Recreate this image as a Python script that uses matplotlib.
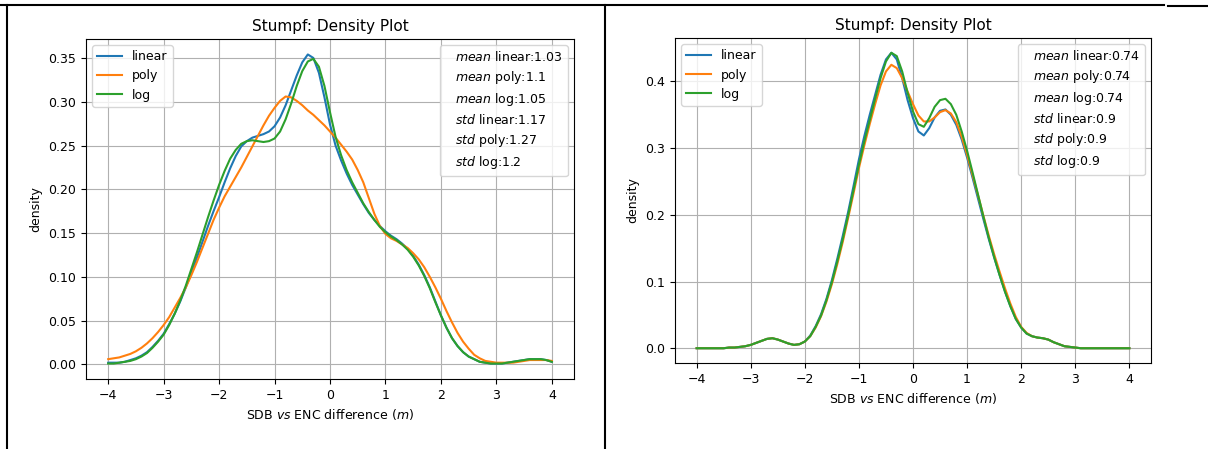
import numpy as np
import matplotlib
matplotlib.use("Agg")
import matplotlib.pyplot as plt
from matplotlib.lines import Line2D

# evaluation grid of the density curves (m), step 0.1
diff_grid = np.arange(-40, 41) / 10

# left panel
left_linear = [0.002, 0.002, 0.002, 0.003, 0.005, 0.007, 0.010, 0.014, 0.020, 0.027,
               0.035, 0.046, 0.058, 0.072, 0.088, 0.105, 0.122, 0.140, 0.158, 0.175,
               0.191, 0.208, 0.224, 0.238, 0.249, 0.255, 0.259, 0.261, 0.263, 0.266,
               0.272, 0.282, 0.296, 0.313, 0.330, 0.345, 0.354, 0.350, 0.333, 0.305,
               0.274, 0.250, 0.233, 0.218, 0.205, 0.194, 0.183, 0.173, 0.165, 0.158,
               0.152, 0.147, 0.143, 0.138, 0.132, 0.124, 0.114, 0.102, 0.088, 0.072,
               0.056, 0.042, 0.030, 0.021, 0.014, 0.009, 0.006, 0.003, 0.002, 0.001,
               0.001, 0.001, 0.002, 0.003, 0.004, 0.005, 0.006, 0.006, 0.006, 0.005,
               0.003]
left_poly = [0.006, 0.007, 0.008, 0.010, 0.012, 0.015, 0.019, 0.024, 0.030, 0.037,
             0.045, 0.054, 0.065, 0.076, 0.088, 0.102, 0.117, 0.133, 0.149, 0.165,
             0.179, 0.192, 0.203, 0.214, 0.225, 0.237, 0.249, 0.261, 0.273, 0.284,
             0.293, 0.301, 0.306, 0.305, 0.301, 0.296, 0.290, 0.285, 0.279, 0.273,
             0.266, 0.259, 0.251, 0.243, 0.234, 0.222, 0.208, 0.190, 0.172, 0.158,
             0.149, 0.144, 0.141, 0.137, 0.133, 0.127, 0.120, 0.111, 0.100, 0.088,
             0.075, 0.061, 0.048, 0.036, 0.026, 0.018, 0.011, 0.007, 0.004, 0.003,
             0.002, 0.002, 0.002, 0.002, 0.003, 0.004, 0.005, 0.005, 0.005, 0.005,
             0.004]
left_log = [0.001, 0.001, 0.002, 0.003, 0.004, 0.006, 0.009, 0.013, 0.019, 0.026,
            0.034, 0.045, 0.058, 0.073, 0.090, 0.109, 0.128, 0.148, 0.168, 0.187,
            0.205, 0.221, 0.235, 0.245, 0.252, 0.255, 0.256, 0.255, 0.254, 0.255,
            0.258, 0.266, 0.280, 0.298, 0.318, 0.335, 0.346, 0.349, 0.340, 0.318,
            0.288, 0.260, 0.239, 0.222, 0.208, 0.196, 0.184, 0.174, 0.165, 0.157,
            0.151, 0.146, 0.142, 0.137, 0.131, 0.123, 0.113, 0.101, 0.087, 0.071,
            0.056, 0.042, 0.030, 0.021, 0.014, 0.009, 0.006, 0.003, 0.002, 0.001,
            0.001, 0.001, 0.002, 0.003, 0.004, 0.005, 0.006, 0.006, 0.006, 0.005,
            0.003]
left_means = ["1.03", "1.1", "1.05"]
left_stds = ["1.17", "1.27", "1.2"]

# right panel
right_linear = [0.0, 0.0, 0.0, 0.0, 0.0, 0.0, 0.001, 0.001, 0.002, 0.003,
                0.005, 0.008, 0.011, 0.014, 0.015, 0.013, 0.010, 0.007, 0.005, 0.006,
                0.010, 0.019, 0.033, 0.051, 0.074, 0.102, 0.134, 0.168, 0.204, 0.243,
                0.283, 0.318, 0.350, 0.380, 0.410, 0.433, 0.443, 0.433, 0.405, 0.372,
                0.345, 0.325, 0.319, 0.330, 0.346, 0.356, 0.358, 0.350, 0.335, 0.313,
                0.286, 0.256, 0.225, 0.194, 0.164, 0.136, 0.110, 0.085, 0.063, 0.044,
                0.031, 0.022, 0.018, 0.016, 0.015, 0.013, 0.009, 0.006, 0.003, 0.002,
                0.001, 0.0, 0.0, 0.0, 0.0, 0.0, 0.0, 0.0, 0.0, 0.0,
                0.0]
right_poly = [0.0, 0.0, 0.0, 0.0, 0.0, 0.0, 0.001, 0.001, 0.002, 0.003,
              0.005, 0.008, 0.011, 0.014, 0.015, 0.013, 0.010, 0.007, 0.005, 0.006,
              0.010, 0.018, 0.031, 0.048, 0.070, 0.096, 0.126, 0.159, 0.195, 0.232,
              0.270, 0.304, 0.336, 0.366, 0.394, 0.415, 0.425, 0.420, 0.405, 0.385,
              0.366, 0.349, 0.340, 0.340, 0.346, 0.354, 0.357, 0.352, 0.339, 0.317,
              0.290, 0.260, 0.230, 0.199, 0.169, 0.141, 0.115, 0.090, 0.067, 0.047,
              0.032, 0.023, 0.018, 0.016, 0.015, 0.013, 0.009, 0.006, 0.003, 0.002,
              0.001, 0.0, 0.0, 0.0, 0.0, 0.0, 0.0, 0.0, 0.0, 0.0,
              0.0]
right_log = [0.0, 0.0, 0.0, 0.0, 0.0, 0.0, 0.001, 0.001, 0.002, 0.003,
             0.005, 0.008, 0.011, 0.014, 0.015, 0.013, 0.010, 0.007, 0.005, 0.006,
             0.010, 0.018, 0.032, 0.049, 0.072, 0.099, 0.130, 0.163, 0.199, 0.237,
             0.275, 0.310, 0.342, 0.374, 0.405, 0.430, 0.443, 0.438, 0.415, 0.383,
             0.355, 0.336, 0.332, 0.345, 0.362, 0.372, 0.374, 0.366, 0.350, 0.325,
             0.296, 0.264, 0.231, 0.198, 0.166, 0.137, 0.110, 0.085, 0.063, 0.044,
             0.031, 0.022, 0.018, 0.016, 0.015, 0.013, 0.009, 0.006, 0.003, 0.002,
             0.001, 0.0, 0.0, 0.0, 0.0, 0.0, 0.0, 0.0, 0.0, 0.0,
             0.0]
right_means = ["0.74", "0.74", "0.74"]
right_stds = ["0.9", "0.9", "0.9"]

series_names = ["linear", "poly", "log"]
colors = ["#1f77b4", "#ff7f0e", "#2ca02c"]

fig = plt.figure(figsize=(12.08, 4.49), dpi=100)
W, H = 1208, 449


def px_rect(x0, y0, x1, y1):
    return [x0 / W, 1 - y1 / H, (x1 - x0) / W, (y1 - y0) / H]


def density_panel(ax, curves, means, stds):
    for name, vals, c in zip(series_names, curves, colors):
        ax.plot(diff_grid, vals, color=c, lw=1.5, label=name)
    ax.grid(True, color="#b0b0b0", lw=0.8)
    ax.set_title("Stumpf: Density Plot", fontsize=11)
    ax.set_xlabel(r"SDB $vs$ ENC difference ($m$)", fontsize=9)
    ax.set_ylabel("density", fontsize=9)
    ax.tick_params(labelsize=9)
    ax.set_xticks(range(-4, 5))
    leg1 = ax.legend(loc="upper left", fontsize=9)
    ax.add_artist(leg1)
    labels = [r"$mean$ " + n + ":" + m for n, m in zip(series_names, means)]
    labels += [r"$std$ " + n + ":" + s for n, s in zip(series_names, stds)]
    handles = [Line2D([], [], linestyle="none") for _ in labels]
    ax.legend(handles, labels, loc="upper right", fontsize=9,
              handlelength=0, handletextpad=0.8, labelspacing=0.4)


ax1 = fig.add_axes(px_rect(86, 39, 574, 379))
density_panel(ax1, [left_linear, left_poly, left_log], left_means, left_stds)

ax2 = fig.add_axes(px_rect(675, 38, 1151, 363))
density_panel(ax2, [right_linear, right_poly, right_log], right_means, right_stds)


# table borders around the two cells
def border(xs, ys):
    fig.add_artist(Line2D([x / W for x in xs], [1 - y / H for y in ys],
                          color="black", lw=1.5, transform=fig.transFigure))


border([7, 7], [5, 449])
border([605, 605], [5, 449])
border([0, 1164], [5, 5])
border([1168, 1208], [6, 6])

fig.savefig("out.png", dpi=100)
